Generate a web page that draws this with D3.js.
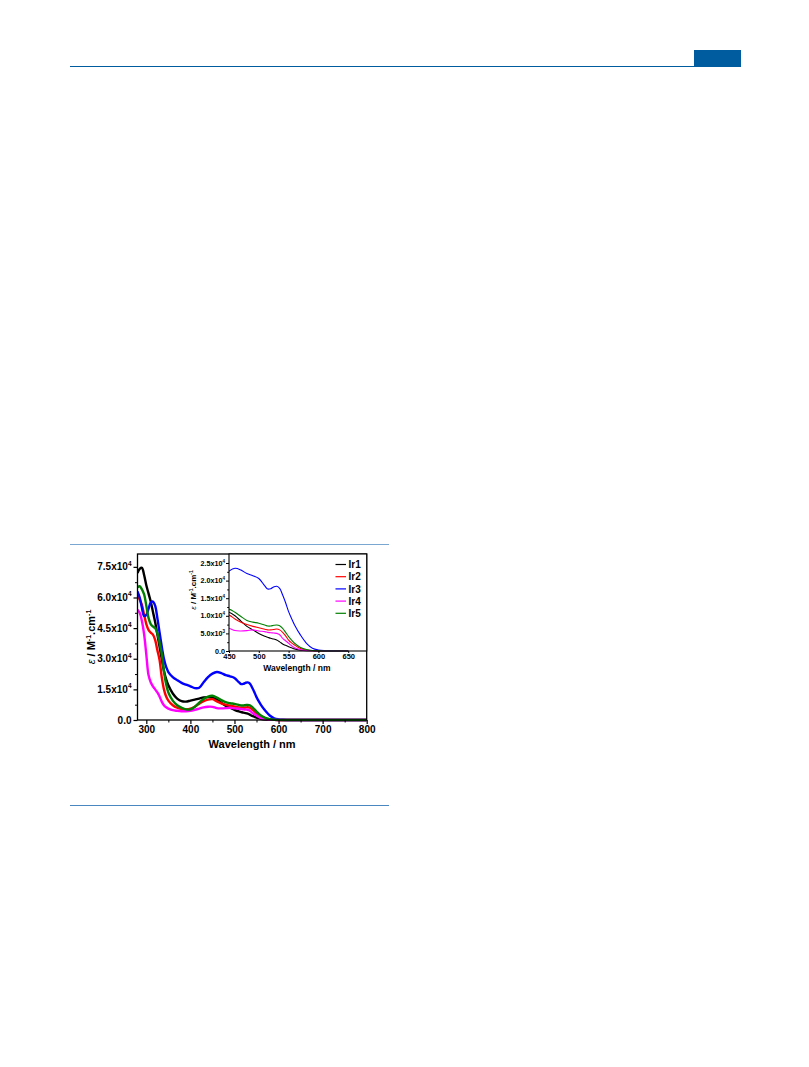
<!DOCTYPE html>
<html><head><meta charset="utf-8">
<script src="https://cdn.jsdelivr.net/npm/d3@7"></script>
<style>body{margin:0;background:#fff}svg{display:block}text{font-family:"Liberation Sans",Arial,sans-serif;font-weight:bold}</style>
</head><body>
<svg id="c" width="809" height="1067"></svg>
<script>
// ---- data ----
const wavelength = [280,285,290,295,300,305,310,315,320,325,330,335,340,345,350,360,370,380,390,400,410,420,430,440,450,460,470,480,490,500,510,515,520,525,530,535,540,545,550,555,560,570,580,590,600,610,620,650,700,800];
const ir1 = [72000,74000,74500,71000,66000,62000,58000,53000,48000,42000,36000,30000,24000,20000,17000,13000,10500,9200,9000,9500,10000,10500,11000,11200,11000,10000,8500,7000,6000,5000,4200,3900,3600,3400,3100,2600,2000,1600,1200,900,600,250,100,50,30,10,0,0,0,0];
const ir2 = [61000,59000,56400,51500,47000,44100,42800,41800,39200,34300,29500,21000,15000,11500,9500,7200,6000,5400,5200,5500,6500,8000,9200,10000,10200,9100,8200,7500,7000,6600,6200,6000,6000,6100,6250,6000,5300,4300,3100,2300,1700,700,250,80,20,5,0,0,0,0];
const ir3 = [63000,60000,55000,51000,51500,54500,57500,58000,56000,50000,43000,36000,30000,26000,23500,21000,19500,18200,17300,16500,15600,15800,18500,21000,22700,23500,23000,22000,21400,20600,18500,17600,17700,18200,18400,17800,15900,13700,11200,9200,7400,4500,2200,800,300,100,30,0,0,0];
const ir4 = [54000,52500,48500,42000,32000,22000,18500,16500,15000,13500,11500,9000,7200,6200,5600,4800,4500,4300,4300,4500,5000,5600,6200,6500,6450,5800,5700,5800,6000,5700,5500,5300,5200,5100,5000,4600,3600,2900,2200,1500,950,400,150,50,10,0,0,0,0,0];
const ir5 = [65000,65500,64000,61500,56000,50000,47000,45800,45000,42500,38000,32500,24000,17500,13500,9500,7200,6000,5200,5200,6500,8500,10300,11500,11900,11000,9800,8700,8200,7900,7400,7100,7100,7300,7400,7200,6450,5300,4100,3100,2200,1000,400,120,40,10,0,0,0,0];
const seriesNames = ["Ir1","Ir2","Ir3","Ir4","Ir5"];
const seriesColors = ["#000000","#ff0000","#0000ff","#ff00ff","#008000"];
const mainXTicks = [300,400,500,600,700,800];
const mainYTicks = [0,15000,30000,45000,60000,75000];
const mainYLabels = [["0.0",""],["1.5x10","4"],["3.0x10","4"],["4.5x10","4"],["6.0x10","4"],["7.5x10","4"]];
const insetXTicks = [450,500,550,600,650];
const insetYTicks = [0,5000,10000,15000,20000,25000];
const insetYLabels = [["0.0",""],["5.0x10","3"],["1.0x10","4"],["1.5x10","4"],["2.0x10","4"],["2.5x10","4"]];

const allSeries = [ir1,ir2,ir3,ir4,ir5];
const svg = d3.select("#c");

// page decorations
svg.append("rect").attr("x",694).attr("y",50).attr("width",47).attr("height",16).attr("fill","#005b9f");
svg.append("line").attr("x1",70).attr("x2",741).attr("y1",66.5).attr("y2",66.5).attr("stroke","#005b9f").attr("stroke-width",1.2);
svg.append("line").attr("x1",70).attr("x2",389).attr("y1",544.5).attr("y2",544.5).attr("stroke","#7aa7d2").attr("stroke-width",1);
svg.append("line").attr("x1",70).attr("x2",389).attr("y1",805.5).attr("y2",805.5).attr("stroke","#4a86c0").attr("stroke-width",1);

// ---- main chart ----
const M = {l:137.5, r:366.7, t:554, b:720};
const x = d3.scaleLinear().domain([280,800]).range([M.l,M.r]);
const y = d3.scaleLinear().domain([0,81300]).range([M.b,M.t]);

svg.append("clipPath").attr("id","mclip").append("rect").attr("x",M.l).attr("y",M.t).attr("width",M.r-M.l).attr("height",M.b-M.t+2);
const line = d3.line().x((d,i)=>x(wavelength[i])).y(d=>y(d)).curve(d3.curveCatmullRom);
const gm = svg.append("g").attr("clip-path","url(#mclip)");
allSeries.forEach((s,k)=>{
  gm.append("path").attr("d",line(s)).attr("fill","none").attr("stroke",seriesColors[k]).attr("stroke-width",2.4).attr("stroke-linejoin","round");
});

// axes main
const xAx = d3.axisBottom(x).tickValues(mainXTicks).tickSize(4).tickFormat(d3.format("d"));
const gx = svg.append("g").attr("transform",`translate(0,${M.b})`).call(xAx);
gx.select(".domain").remove();
gx.selectAll("line").attr("stroke-width",1.2);
gx.selectAll("text").attr("font-size",10).attr("dy","0.6em").attr("fill","#000");
const gxm = svg.append("g").attr("transform",`translate(0,${M.b})`).call(d3.axisBottom(x).tickValues([350,450,550,650,750]).tickSize(2.5).tickFormat(""));
gxm.select(".domain").remove();

const yAx = d3.axisLeft(y).tickValues(mainYTicks).tickSize(4).tickFormat("");
const gy = svg.append("g").attr("transform",`translate(${M.l},0)`).call(yAx);
gy.select(".domain").remove(); gy.selectAll("line").attr("stroke-width",1.2);
const gym = svg.append("g").attr("transform",`translate(${M.l},0)`).call(d3.axisLeft(y).tickValues([7500,22500,37500,52500,67500]).tickSize(2.5).tickFormat(""));
gym.select(".domain").remove();
mainYTicks.forEach((v,i)=>{
  const t = svg.append("text").attr("x",M.l-6).attr("y",y(v)+3.5).attr("text-anchor","end").attr("font-size",10);
  t.append("tspan").text(mainYLabels[i][0]);
  if(mainYLabels[i][1]) t.append("tspan").attr("font-size",6.5).attr("dy",-4.5).text(mainYLabels[i][1]);
});
// frame
svg.append("rect").attr("x",M.l).attr("y",M.t).attr("width",M.r-M.l).attr("height",M.b-M.t).attr("fill","none").attr("stroke","#000").attr("stroke-width",1.3);

svg.append("text").attr("x",(M.l+M.r)/2).attr("y",747.5).attr("text-anchor","middle").attr("font-size",11).text("Wavelength / nm");
const yt = svg.append("text").attr("transform",`translate(95,${(M.t+M.b)/2}) rotate(-90)`).attr("text-anchor","middle").attr("font-size",11);
yt.append("tspan").attr("font-style","italic").attr("font-weight","normal").text("ε");
yt.append("tspan").text(" / M");
yt.append("tspan").attr("font-size",7).attr("dy",-4).text("-1");
yt.append("tspan").attr("dy",4).text(".cm");
yt.append("tspan").attr("font-size",7).attr("dy",-4).text("-1");

// ---- inset ----
const I = {l:229, r:366.7, t:554, b:651};
const xi = d3.scaleLinear().domain([450,681]).range([I.l,I.r]);
const yi = d3.scaleLinear().domain([0,27560]).range([I.b,I.t]);
svg.append("rect").attr("x",I.l).attr("y",I.t).attr("width",I.r-I.l).attr("height",I.b-I.t).attr("fill","#fff");
svg.append("clipPath").attr("id","iclip").append("rect").attr("x",I.l).attr("y",I.t).attr("width",xi(650)-I.l).attr("height",I.b-I.t+1);
const linei = d3.line().x((d,i)=>xi(wavelength[i])).y(d=>yi(d)).curve(d3.curveCatmullRom);
const gi = svg.append("g").attr("clip-path","url(#iclip)");
allSeries.forEach((s,k)=>{
  gi.append("path").attr("d",linei(s)).attr("fill","none").attr("stroke",seriesColors[k]).attr("stroke-width",1.1);
});
const gix = svg.append("g").attr("transform",`translate(0,${I.b})`).call(d3.axisBottom(xi).tickValues(insetXTicks).tickSize(2).tickPadding(1.5).tickFormat(d3.format("d")));
gix.select(".domain").remove();
gix.selectAll("text").attr("font-size",7.5).attr("dy","0.62em").attr("fill","#000");
const giy = svg.append("g").attr("transform",`translate(${I.l},0)`).call(d3.axisLeft(yi).tickValues(insetYTicks).tickSize(3).tickFormat(""));
giy.select(".domain").remove();
const giym = svg.append("g").attr("transform",`translate(${I.l},0)`).call(d3.axisLeft(yi).tickValues([2500,7500,12500,17500,22500]).tickSize(1.8).tickFormat(""));
giym.select(".domain").remove();
insetYTicks.forEach((v,i)=>{
  const t = svg.append("text").attr("x",I.l-4).attr("y",yi(v)+2.6).attr("text-anchor","end").attr("font-size",7.2);
  t.append("tspan").text(insetYLabels[i][0]);
  if(insetYLabels[i][1]) t.append("tspan").attr("font-size",4.5).attr("dy",-3).text(insetYLabels[i][1]);
});
svg.append("rect").attr("x",I.l).attr("y",I.t).attr("width",I.r-I.l).attr("height",I.b-I.t).attr("fill","none").attr("stroke","#000").attr("stroke-width",1.1);
svg.append("text").attr("x",(I.l+I.r)/2-1).attr("y",670.5).attr("text-anchor","middle").attr("font-size",8.5).text("Wavelength / nm");
const yti = svg.append("text").attr("transform",`translate(196,590) rotate(-90)`).attr("text-anchor","middle").attr("font-size",8);
yti.append("tspan").attr("font-style","italic").attr("font-weight","normal").text("ε");
yti.append("tspan").text(" / M");
yti.append("tspan").attr("font-size",5).attr("dy",-3).text("-1");
yti.append("tspan").attr("dy",3).text(".cm");
yti.append("tspan").attr("font-size",5).attr("dy",-3).text("-1");

// legend
seriesNames.forEach((n,k)=>{
  const yy = 564.5 + k*12.2;
  svg.append("line").attr("x1",335.5).attr("x2",346).attr("y1",yy).attr("y2",yy).attr("stroke",seriesColors[k]).attr("stroke-width",1.2);
  svg.append("text").attr("x",348.5).attr("y",yy+3.6).attr("font-size",10).text(n);
});
</script>
</body></html>
